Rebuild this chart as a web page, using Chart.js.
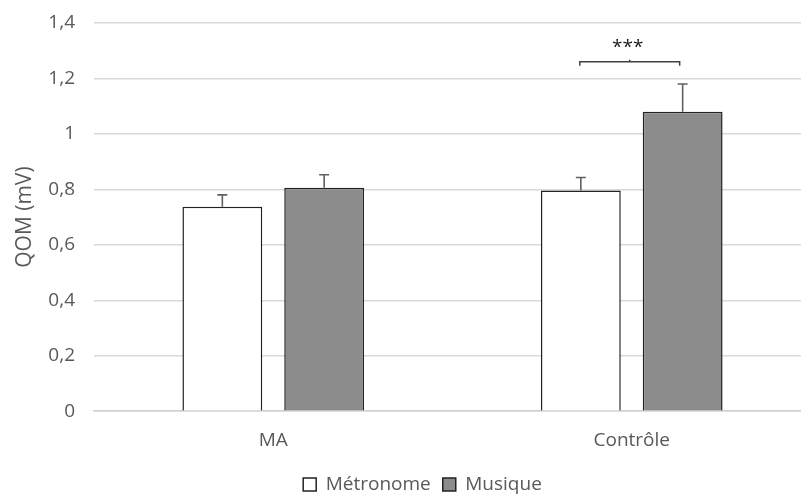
<!DOCTYPE html>
<html>
<head>
<meta charset="utf-8">
<script src="https://cdn.jsdelivr.net/npm/chart.js@4"></script>
<style>
  html, body { margin: 0; padding: 0; background: #fff; overflow: hidden; }
  #boite { width: 820px; height: 496px; }
</style>
</head>
<body>
<div id="boite"><canvas id="graphique" width="820" height="496"></canvas></div>
<script>
// Données
const groupes = ["MA", "Contrôle"];
const metronome = [0.737, 0.796];
const musique = [0.806, 1.08];
const erreurMetronome = [0.043, 0.047];
const erreurMusique = [0.047, 0.10];
const graduations = [0, 0.2, 0.4, 0.6, 0.8, 1, 1.2, 1.4];
const signif = { groupe: 1, niveau: 1.26, texte: "***" };

const gris = "#595959";
const police = "Open Sans";

// barres d'erreur (vers le haut seulement)
const barresErreur = {
  id: "barresErreur",
  afterDatasetsDraw(chart) {
    const ctx = chart.ctx;
    const y = chart.scales.y;
    const erreurs = [erreurMetronome, erreurMusique];
    ctx.save();
    ctx.strokeStyle = "#606060";
    ctx.lineWidth = 1.6;
    chart.data.datasets.forEach(function (ds, i) {
      const meta = chart.getDatasetMeta(i);
      meta.data.forEach(function (barre, j) {
        const haut = y.getPixelForValue(ds.data[j]);
        const fin = y.getPixelForValue(ds.data[j] + erreurs[i][j]);
        ctx.beginPath();
        ctx.moveTo(barre.x, haut);
        ctx.lineTo(barre.x, fin);
        ctx.moveTo(barre.x - 5, fin);
        ctx.lineTo(barre.x + 5, fin);
        ctx.stroke();
      });
    });
    ctx.restore();
  }
};

// accolade de significativité
const accolade = {
  id: "accolade",
  afterDatasetsDraw(chart) {
    const ctx = chart.ctx;
    const y = chart.scales.y;
    const a = chart.getDatasetMeta(0).data[signif.groupe];
    const b = chart.getDatasetMeta(1).data[signif.groupe];
    const py = y.getPixelForValue(signif.niveau);
    const milieu = (a.x + b.x) / 2;
    ctx.save();
    ctx.strokeStyle = "#404040";
    ctx.lineWidth = 1.5;
    ctx.beginPath();
    ctx.moveTo(a.x - 1, py + 4);
    ctx.lineTo(a.x - 1, py);
    ctx.lineTo(b.x - 3, py);
    ctx.lineTo(b.x - 3, py + 4);
    ctx.moveTo(milieu - 2, py);
    ctx.lineTo(milieu - 2, py - 2);
    ctx.stroke();
    ctx.fillStyle = "#222";
    ctx.font = "19px '" + police + "'";
    ctx.textAlign = "center";
    ctx.textBaseline = "middle";
    ctx.fillText(signif.texte, milieu - 4, py - 14);
    ctx.restore();
  }
};

// décale la légende comme dans l'original
const decaleLegende = {
  id: "decaleLegende",
  afterLayout(chart) {
    const lg = chart.legend;
    const dx = 11, dy = -7;
    lg.left += dx; lg.right += dx;
    lg.top += dy; lg.bottom += dy;
  }
};

new Chart(document.getElementById("graphique"), {
  type: "bar",
  data: {
    labels: groupes,
    datasets: [
      {
        label: "Métronome",
        data: metronome,
        backgroundColor: "#ffffff",
        borderColor: "#222222",
        borderWidth: 1.5,
        categoryPercentage: 0.568,
        barPercentage: 0.784
      },
      {
        label: "Musique",
        data: musique,
        backgroundColor: "#8c8c8c",
        borderColor: "#222222",
        borderWidth: 1.5,
        categoryPercentage: 0.568,
        barPercentage: 0.784
      }
    ]
  },
  options: {
    responsive: false,
    animation: false,
    layout: { padding: { top: 23, right: 9, left: 12, bottom: -15 } },
    scales: {
      x: {
        grid: { display: false, drawTicks: false },
        border: { color: "#d0d0d0", width: 1.5 },
        ticks: { color: gris, font: { family: police, size: 19 }, padding: 18 }
      },
      y: {
        min: 0,
        max: 1.4,
        afterBuildTicks(axe) {
          axe.ticks = graduations.map(function (v) { return { value: v }; });
        },
        afterFit(axe) {
          axe.width = 82;
          axe.paddingTop = 0;
          axe.paddingBottom = 0;
        },
        grid: { color: "#d9d9d9", lineWidth: 1.5, drawTicks: false },
        border: { display: false },
        ticks: {
          color: gris,
          font: { family: police, size: 19 },
          padding: 19,
          callback: function (v) { return String(v).replace(".", ","); }
        },
        title: {
          display: true,
          text: "QOM (mV)",
          color: gris,
          font: { family: police, size: 21 },
          padding: { top: 0, bottom: 8 }
        }
      }
    },
    plugins: {
      legend: {
        position: "bottom",
        labels: {
          color: gris,
          font: { family: police, size: 19 },
          boxWidth: 13,
          boxHeight: 13,
          padding: 12
        }
      },
      tooltip: { enabled: false }
    }
  },
  plugins: [barresErreur, accolade, decaleLegende]
});
</script>
</body>
</html>
